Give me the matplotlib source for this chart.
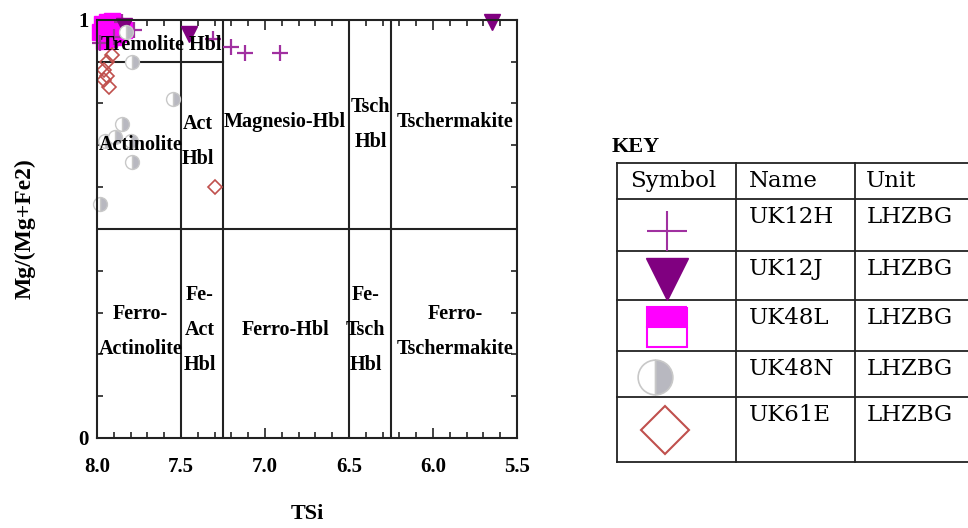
import matplotlib
matplotlib.use('Agg')
import matplotlib.pyplot as plt
from matplotlib.lines import Line2D

# sample data (TSi, Mg/(Mg+Fe2))
uk12h_x = [7.31, 7.20, 7.12, 6.91, 7.85, 7.78, 7.98, 7.90]
uk12h_y = [0.955, 0.935, 0.920, 0.920, 0.995, 0.975, 0.945, 0.960]
uk12j_x = [7.45, 5.65, 7.84]
uk12j_y = [0.966, 0.995, 0.985]
uk48l_x = [7.96, 7.93, 7.90, 7.87, 7.84, 7.98, 7.95, 7.92, 7.89, 7.97, 7.94, 7.91]
uk48l_y = [0.950, 0.955, 0.960, 0.965, 0.975, 0.970, 0.975, 0.980, 0.985, 0.990, 0.995, 0.998]
uk48n_x = [7.55, 7.85, 7.89, 7.95, 7.80, 7.79, 7.98, 7.79, 7.83]
uk48n_y = [0.810, 0.750, 0.720, 0.710, 0.710, 0.660, 0.560, 0.900, 0.970]
uk61e_x = [7.30, 7.91, 7.94, 7.96, 7.94, 7.96, 7.93]
uk61e_y = [0.600, 0.915, 0.900, 0.880, 0.865, 0.855, 0.840]

samples = ['UK12H', 'UK12J', 'UK48L', 'UK48N', 'UK61E']
units = ['LHZBG'] * 5

fields = [
    ('Tremolite Hbl', 7.62, 0.94),
    ('Actinolite', 7.74, 0.70),
    ('Act\nHbl', 7.40, 0.71),
    ('Magnesio-Hbl', 6.88, 0.755),
    ('Tsch\nHbl', 6.37, 0.75),
    ('Tschermakite', 5.87, 0.755),
    ('Ferro-\nActinolite', 7.74, 0.255),
    ('Fe-\nAct\nHbl', 7.39, 0.258),
    ('Ferro-Hbl', 6.88, 0.258),
    ('Fe-\nTsch\nHbl', 6.40, 0.258),
    ('Ferro-\nTschermakite', 5.87, 0.255),
]

serif = 'Liberation Serif'

fig = plt.figure(figsize=(9.68, 5.28), dpi=100)
ax = fig.add_axes([0.1002, 0.1705, 0.434, 0.792])
ax.set_xlim(8.0, 5.5)
ax.set_ylim(0, 1)

# field boundaries
for xv in [7.5, 7.25, 6.5, 6.25]:
    ax.axvline(xv, color='#222222', lw=1.5)
ax.axhline(0.5, color='#222222', lw=1.5)
ax.plot([8.0, 7.25], [0.9, 0.9], color='#222222', lw=1.5)

for txt, x, y in fields:
    ax.text(x, y, txt, ha='center', va='center', family=serif,
            fontweight='bold', fontsize=14.5, linespacing=2.0)

ax.plot(uk48l_x, uk48l_y, ls='none', marker='s', ms=11, color='#ff00ff', clip_on=False)
ax.plot(uk12h_x, uk12h_y, ls='none', marker='+', ms=11, mew=1.6, color='#a030a0', clip_on=False)
ax.plot(uk12j_x, uk12j_y, ls='none', marker='v', ms=11, color='#800080', clip_on=False)
ax.plot(uk48n_x, uk48n_y, ls='none', marker='o', ms=10, color='#b8b8c0', fillstyle='right',
        markerfacecoloralt='white', mec='#c8c8c8', mew=1, clip_on=False)
ax.plot(uk61e_x, uk61e_y, ls='none', marker='D', ms=7, mfc='none', mec='#c0504d', mew=1.2, clip_on=False)

ax.set_xticks([8.0, 7.5, 7.0, 6.5, 6.0, 5.5])
ax.set_xticklabels(['8.0', '7.5', '7.0', '6.5', '6.0', '5.5'])
ax.set_xticks([8.0 - 0.1 * i for i in range(26)], minor=True)
ax.set_yticks([0, 1])
ax.set_yticklabels(['0', '1'])
ax.set_yticks([0.1 * i for i in range(11)], minor=True)
ax.tick_params(which='both', direction='in', top=True, right=True, width=1.2, color='#222222')
ax.tick_params(which='major', length=7)
ax.tick_params(which='minor', length=4)
ax.tick_params(axis='y', which='major', length=0, pad=6)
ax.tick_params(axis='x', which='major', pad=14)
for lab in ax.get_xticklabels() + ax.get_yticklabels():
    lab.set_family(serif)
    lab.set_fontweight('bold')
    lab.set_fontsize(15)
for sp in ax.spines.values():
    sp.set_linewidth(1.5)
    sp.set_color('#222222')

ax.set_xlabel('TSi', family=serif, fontweight='bold', fontsize=16, labelpad=19)
ax.set_ylabel('Mg/(Mg+Fe2)', family=serif, fontweight='bold', fontsize=17, labelpad=31)

# key table drawn in pixel coordinates
kx = fig.add_axes([0, 0, 1, 1])
kx.set_xlim(0, 968)
kx.set_ylim(528, 0)
kx.axis('off')
rows = [163, 199, 251, 300, 351, 397, 462]
cols = [617, 736, 855]
for r in rows:
    kx.add_line(Line2D([617, 990], [r, r], color='#222222', lw=1.3, clip_on=False))
for c in cols:
    kx.add_line(Line2D([c, c], [163, 462], color='#222222', lw=1.3))

kx.text(612, 147, 'KEY', family=serif, fontweight='bold', fontsize=16, ha='left', va='center')
for txt, x in zip(['Symbol', 'Name', 'Unit'], [630, 749, 866]):
    kx.text(x, 181, txt, family='DejaVu Serif', fontsize=16.5, ha='left', va='center')
for i, (s, u) in enumerate(zip(samples, units)):
    yc = rows[i + 1] + 18
    kx.text(749, yc, s, family='DejaVu Serif', fontsize=16.5, ha='left', va='center')
    kx.text(867, yc, u, family='DejaVu Serif', fontsize=16.5, ha='left', va='center')

kx.plot([667], [231], marker='+', ms=29, mew=1.5, color='#a030a0')
kx.plot([667], [279], marker='v', ms=30, color='#800080')
kx.plot([667], [327], marker='s', ms=29, color='#ff00ff', fillstyle='top',
        markerfacecoloralt='white', mew=1.5)
kx.plot([655], [377], marker='o', ms=25, color='#b8b8c0', fillstyle='right',
        markerfacecoloralt='white', mec='#c8c8c8', mew=1.2)
kx.plot([665], [430], marker='D', ms=24, mfc='none', mec='#c0504d', mew=1.5)

fig.savefig('out.png', dpi=100)
